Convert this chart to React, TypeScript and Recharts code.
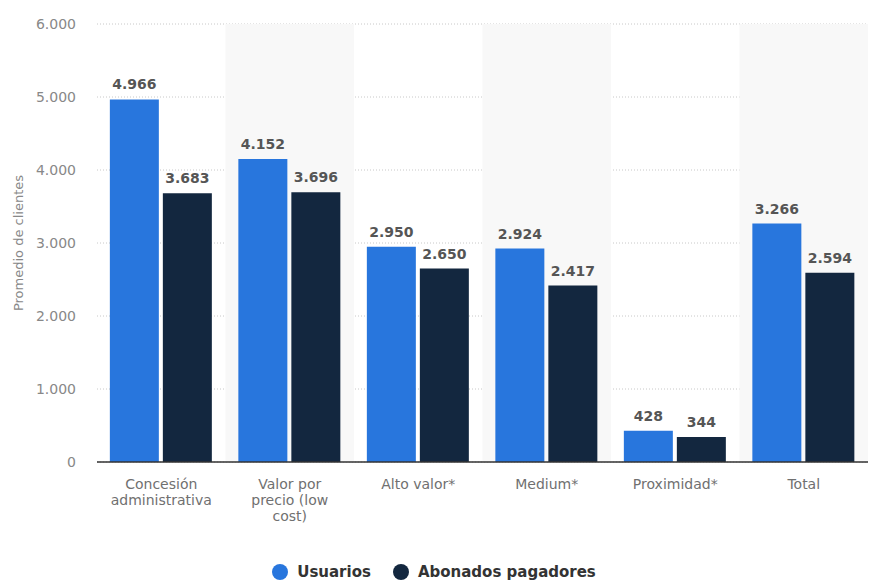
import React from 'react';
import {
  BarChart,
  Bar,
  XAxis,
  YAxis,
  CartesianGrid,
  Legend,
  LabelList,
  ReferenceArea,
  Text,
} from 'recharts';

const categories = [
  'Concesión administrativa',
  'Valor por precio (low cost)',
  'Alto valor*',
  'Medium*',
  'Proximidad*',
  'Total',
];
const usuarios = [4966, 4152, 2950, 2924, 428, 3266];
const abonados = [3683, 3696, 2650, 2417, 344, 2594];
const seriesNames = ['Usuarios', 'Abonados pagadores'];
const yTicks = [0, 1000, 2000, 3000, 4000, 5000, 6000];

const BLUE = '#2876dd';
const NAVY = '#13273f';
const FONT = '"DejaVu Sans", sans-serif';

const data = categories.map((name, i) => ({
  name,
  usuarios: usuarios[i],
  abonados: abonados[i],
}));

// thousands with a dot, like the original (es locale won't group 4 digits)
const fmt = (v: number) => String(v).replace(/\B(?=(\d{3})+(?!\d))/g, '.');

const CategoryTick = (props: any) => {
  const { x, y, payload } = props;
  return (
    <Text
      x={x}
      y={y + 9}
      width={106}
      textAnchor="middle"
      verticalAnchor="start"
      lineHeight={16}
      fontSize={14}
      fontFamily={FONT}
      style={{ fontSize: 14, fontFamily: FONT }}
      fill="#707070"
    >
      {payload.value}
    </Text>
  );
};

const LegendContent = (props: any) => {
  const items = [...(props.payload || [])].sort(
    (a: any, b: any) => seriesNames.indexOf(a.value) - seriesNames.indexOf(b.value)
  );
  return (
    <div style={{ display: 'flex', justifyContent: 'center', alignItems: 'center' }}>
      {items.map((it: any) => (
        <div key={it.value} style={{ display: 'flex', alignItems: 'center', margin: '0 11px' }}>
          <span
            style={{
              width: 16,
              height: 16,
              borderRadius: '50%',
              background: it.color,
              display: 'inline-block',
              marginRight: 9,
            }}
          />
          <span style={{ fontFamily: FONT, fontSize: 15, fontWeight: 'bold', color: '#333' }}>
            {it.value}
          </span>
        </div>
      ))}
    </div>
  );
};

export default function App() {
  return (
    <div style={{ position: 'absolute', left: 0, top: 0, width: 869, height: 580, background: '#fff', overflow: 'hidden' }}>
      <BarChart
        width={869}
        height={580}
        data={data}
        margin={{ top: 24, right: 1, left: 0, bottom: 0 }}
        barCategoryGap="10%"
        barGap={4}
      >
        {categories
          .filter((_, i) => i % 2 === 1)
          .map((c) => (
            <ReferenceArea key={c} x1={c} x2={c} fill="#f8f8f8" fillOpacity={1} stroke="none" ifOverflow="visible" />
          ))}
        <CartesianGrid vertical={false} stroke="#c8c8c8" strokeDasharray="1 2" />
        <XAxis
          dataKey="name"
          interval={0}
          height={94}
          tickLine={false}
          axisLine={{ stroke: '#333', strokeWidth: 1.5 }}
          tick={<CategoryTick />}
        />
        <YAxis
          width={97}
          domain={[0, 6000]}
          ticks={yTicks}
          tickFormatter={fmt}
          tickLine={false}
          axisLine={false}
          tickSize={0}
          tickMargin={21}
          tick={{ fontSize: 14, fill: '#888', fontFamily: FONT }}
          label={{
            value: 'Promedio de clientes',
            angle: -90,
            position: 'insideLeft',
            offset: 18,
            style: { textAnchor: 'middle', fontSize: 13, fill: '#888', fontFamily: FONT },
          }}
        />
        <Legend
          verticalAlign="bottom"
          height={24}
          content={<LegendContent />}
          wrapperStyle={{ bottom: -7 }}
        />
        <Bar dataKey="usuarios" name={seriesNames[0]} fill={BLUE} isAnimationActive={false}>
          <LabelList
            dataKey="usuarios"
            position="top"
            offset={10}
            formatter={(v: any) => fmt(Number(v))}
            style={{ fontSize: 14, fontWeight: 'bold', fill: '#555', fontFamily: FONT }}
          />
        </Bar>
        <Bar dataKey="abonados" name={seriesNames[1]} fill={NAVY} isAnimationActive={false}>
          <LabelList
            dataKey="abonados"
            position="top"
            offset={10}
            formatter={(v: any) => fmt(Number(v))}
            style={{ fontSize: 14, fontWeight: 'bold', fill: '#555', fontFamily: FONT }}
          />
        </Bar>
      </BarChart>
    </div>
  );
}
